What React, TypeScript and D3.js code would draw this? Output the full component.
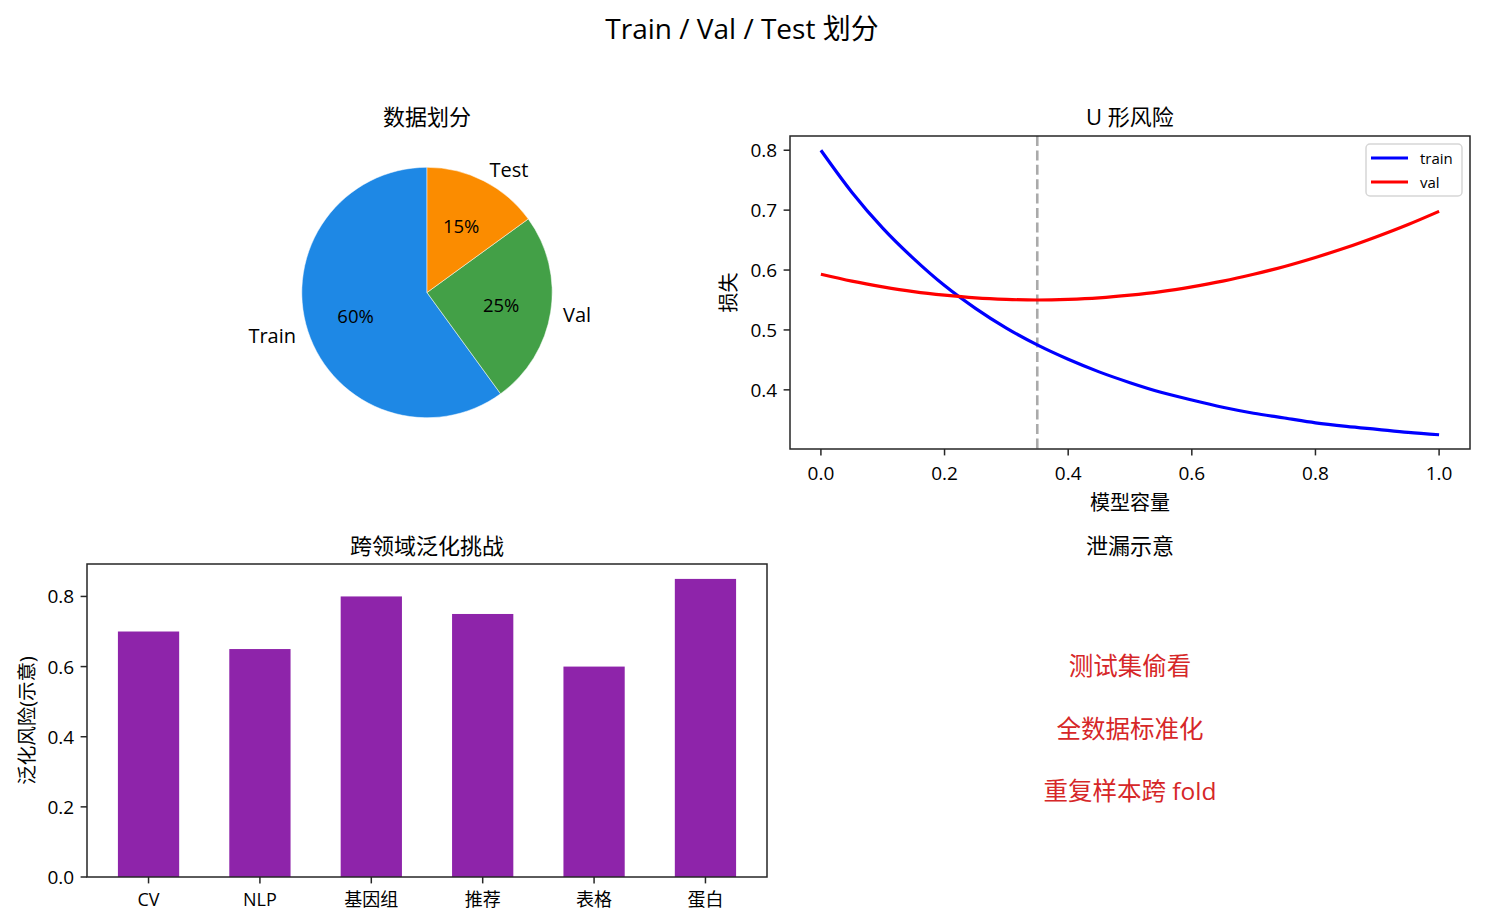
import React from "react";
import * as d3 from "d3";

// ---------- data ----------
const splitLabels = ["Train", "Val", "Test"];
const splitValues = [60, 25, 15];
const splitColors = ["#1e88e5", "#43a047", "#fb8c00"];

const capacity = [0, 0.05, 0.1, 0.15, 0.2, 0.25, 0.3, 0.35, 0.4, 0.45, 0.5, 0.55, 0.6, 0.65, 0.7, 0.75, 0.8, 0.85, 0.9, 0.95, 1.0];
const trainLoss = [0.8, 0.73, 0.67, 0.619, 0.574, 0.536, 0.503, 0.475, 0.451, 0.43, 0.412, 0.396, 0.383, 0.371, 0.361, 0.353, 0.345, 0.339, 0.334, 0.329, 0.325];
const valLoss = [0.593, 0.5815, 0.572, 0.564, 0.558, 0.5535, 0.551, 0.55, 0.551, 0.5535, 0.558, 0.564, 0.572, 0.5815, 0.593, 0.606, 0.621, 0.6375, 0.656, 0.676, 0.698];
const bestCapacity = 0.35;
const lossXTicks = [0, 0.2, 0.4, 0.6, 0.8, 1.0];
const lossYTicks = [0.4, 0.5, 0.6, 0.7, 0.8];

const domains = ["CV", "NLP", "基因组", "推荐", "表格", "蛋白"];
const riskValues = [0.7, 0.65, 0.8, 0.75, 0.6, 0.85];
const riskYTicks = [0, 0.2, 0.4, 0.6, 0.8];

const leakItems = ["测试集偷看", "全数据标准化", "重复样本跨 fold"];

// ---------- style ----------
const FONT = "'Open Sans', 'Noto Sans CJK SC', sans-serif";
const INK = "#262626";

export default function App() {
  const W = 1485, H = 924;
  // axes boxes
  const L = { x0: 87, x1: 767 };
  const R = { x0: 790, x1: 1470 };
  const T = { y0: 136, y1: 449 };
  const B = { y0: 564, y1: 877 };

  // ---- pie ----
  const cx = (L.x0 + L.x1) / 2, cy = (T.y0 + T.y1) / 2;
  const radius = (T.y1 - T.y0) / 2.5;
  const pie = d3.pie<number>().sort(null).startAngle(0).endAngle(-2 * Math.PI);
  const arcs = pie(splitValues);
  const arcGen = d3.arc<d3.PieArcDatum<number>>().innerRadius(0).outerRadius(radius);
  const labelArc = d3.arc<d3.PieArcDatum<number>>().innerRadius(radius * 1.1).outerRadius(radius * 1.1);
  const pctArc = d3.arc<d3.PieArcDatum<number>>().innerRadius(radius * 0.6).outerRadius(radius * 0.6);
  const total = d3.sum(splitValues);

  // ---- loss ----
  const xMin = d3.min(capacity)!, xMax = d3.max(capacity)!;
  const allLoss = trainLoss.concat(valLoss);
  const yMin = d3.min(allLoss)!, yMax = d3.max(allLoss)!;
  const xPad = (xMax - xMin) * 0.05, yPad = (yMax - yMin) * 0.05;
  const xs = d3.scaleLinear().domain([xMin - xPad, xMax + xPad]).range([R.x0, R.x1]);
  const ys = d3.scaleLinear().domain([yMin - yPad, yMax + yPad]).range([T.y1, T.y0]);
  const line = (vals: number[]) =>
    d3.line<number>().x((_, i) => xs(capacity[i])).y((v) => ys(v)).curve(d3.curveMonotoneX)(vals) || "";

  // ---- bars ----
  const bw = 0.55;
  const span = domains.length - 1 + bw;
  const bx = d3.scaleLinear().domain([-bw / 2 - span * 0.05, domains.length - 1 + bw / 2 + span * 0.05]).range([L.x0, L.x1]);
  const by = d3.scaleLinear().domain([0, d3.max(riskValues)! * 1.05]).range([B.y1, B.y0]);

  const tick = 6.4, pad = 6.4;
  const TICK_FS = 19;

  return (
    <div style={{ position: "absolute", left: 0, top: 0 }}>
      <svg width={W} height={H} viewBox={`0 0 ${W} ${H}`} style={{ display: "block", background: "#fff" }} fontFamily={FONT}>
        <rect x={0} y={0} width={W} height={H} fill="#fff" />
        <text x={742} y={28} fontSize={28} textAnchor="middle" dominantBaseline="central" fill="#000">Train / Val / Test 划分</text>

        {/* ---- pie ---- */}
        <text x={cx} y={116} fontSize={22} textAnchor="middle" dominantBaseline="central" fill="#000">数据划分</text>
        <g transform={`translate(${cx},${cy})`}>
          {arcs.map((a, i) => (
            <path key={i} d={arcGen(a) || ""} fill={splitColors[i]} stroke="#fff" strokeWidth={0.5} />
          ))}
          {arcs.map((a, i) => {
            const [lx, ly] = labelArc.centroid(a);
            const [px, py] = pctArc.centroid(a);
            return (
              <g key={"l" + i}>
                <text x={lx} y={ly} fontSize={20} textAnchor={lx < 0 ? "end" : "start"} dominantBaseline="central" fill="#000">{splitLabels[i]}</text>
                <text x={px} y={py} fontSize={18.5} textAnchor="middle" dominantBaseline="central" fill="#000">{`${Math.round((splitValues[i] / total) * 100)}%`}</text>
              </g>
            );
          })}
        </g>

        {/* ---- loss curves ---- */}
        <text x={(R.x0 + R.x1) / 2} y={116} fontSize={22} textAnchor="middle" dominantBaseline="central" fill="#000">U 形风险</text>
        <defs>
          <clipPath id="clipR"><rect x={R.x0} y={T.y0} width={R.x1 - R.x0} height={T.y1 - T.y0} /></clipPath>
        </defs>
        <line x1={xs(bestCapacity)} x2={xs(bestCapacity)} y1={T.y0} y2={T.y1} stroke="#aaaaaa" strokeWidth={2.6} strokeDasharray="10,4.4" />
        <g clipPath="url(#clipR)">
          <path d={line(trainLoss)} fill="none" stroke="#0000ff" strokeWidth={3.2} />
          <path d={line(valLoss)} fill="none" stroke="#ff0000" strokeWidth={3.2} />
        </g>
        <rect x={R.x0} y={T.y0} width={R.x1 - R.x0} height={T.y1 - T.y0} fill="none" stroke={INK} strokeWidth={1.5} />
        {lossXTicks.map((t) => (
          <g key={"xt" + t}>
            <line x1={xs(t)} x2={xs(t)} y1={T.y1} y2={T.y1 + tick} stroke={INK} strokeWidth={1.5} />
            <text x={xs(t)} y={473} fontSize={TICK_FS} textAnchor="middle" dominantBaseline="central" fill="#000">{d3.format(".1f")(t)}</text>
          </g>
        ))}
        {lossYTicks.map((t) => (
          <g key={"yt" + t}>
            <line x1={R.x0 - tick} x2={R.x0} y1={ys(t)} y2={ys(t)} stroke={INK} strokeWidth={1.5} />
            <text x={R.x0 - tick - pad} y={ys(t)} fontSize={TICK_FS} textAnchor="end" dominantBaseline="central" fill="#000">{d3.format(".1f")(t)}</text>
          </g>
        ))}
        <text x={(R.x0 + R.x1) / 2} y={502} fontSize={20} textAnchor="middle" dominantBaseline="central" fill="#000">模型容量</text>
        <text transform={`translate(728,${(T.y0 + T.y1) / 2}) rotate(-90)`} fontSize={20} textAnchor="middle" dominantBaseline="central" fill="#000">损失</text>
        {/* legend */}
        <rect x={1366} y={144} width={96} height={52} rx={4} fill="#fff" fillOpacity={0.8} stroke="#d6d6d6" strokeWidth={1.5} />
        {["train", "val"].map((name, i) => (
          <g key={name}>
            <line x1={1371} x2={1408} y1={158 + i * 24} y2={158 + i * 24} stroke={i === 0 ? "#0000ff" : "#ff0000"} strokeWidth={3.2} />
            <text x={1420} y={158 + i * 24} fontSize={15} dominantBaseline="central" fill="#000">{name}</text>
          </g>
        ))}

        {/* ---- bars ---- */}
        <text x={(L.x0 + L.x1) / 2} y={545} fontSize={22} textAnchor="middle" dominantBaseline="central" fill="#000">跨领域泛化挑战</text>
        {riskValues.map((v, i) => (
          <rect key={"b" + i} x={bx(i - bw / 2)} y={by(v)} width={bx(bw) - bx(0)} height={by(0) - by(v)} fill="#8e24aa" />
        ))}
        <rect x={L.x0} y={B.y0} width={L.x1 - L.x0} height={B.y1 - B.y0} fill="none" stroke={INK} strokeWidth={1.5} />
        {domains.map((d, i) => (
          <g key={"bt" + i}>
            <line x1={bx(i)} x2={bx(i)} y1={B.y1} y2={B.y1 + tick} stroke={INK} strokeWidth={1.5} />
            <text x={bx(i)} y={899} fontSize={18} textAnchor="middle" dominantBaseline="central" fill="#000">{d}</text>
          </g>
        ))}
        {riskYTicks.map((t) => (
          <g key={"ryt" + t}>
            <line x1={L.x0 - tick} x2={L.x0} y1={by(t)} y2={by(t)} stroke={INK} strokeWidth={1.5} />
            <text x={L.x0 - tick - pad} y={by(t)} fontSize={TICK_FS} textAnchor="end" dominantBaseline="central" fill="#000">{d3.format(".1f")(t)}</text>
          </g>
        ))}
        <text transform={`translate(26,${(B.y0 + B.y1) / 2}) rotate(-90)`} fontSize={19.5} textAnchor="middle" dominantBaseline="central" fill="#000">泛化风险(示意)</text>

        {/* ---- leakage ---- */}
        <text x={(R.x0 + R.x1) / 2} y={545} fontSize={22} textAnchor="middle" dominantBaseline="central" fill="#000">泄漏示意</text>
        {leakItems.map((s, i) => (
          <text key={"lk" + i} x={(R.x0 + R.x1) / 2} y={B.y1 - (B.y1 - B.y0) * (0.675 - 0.2 * i)} fontSize={24.5} textAnchor="middle" dominantBaseline="central" fill="#d62728">{s}</text>
        ))}
      </svg>
    </div>
  );
}
